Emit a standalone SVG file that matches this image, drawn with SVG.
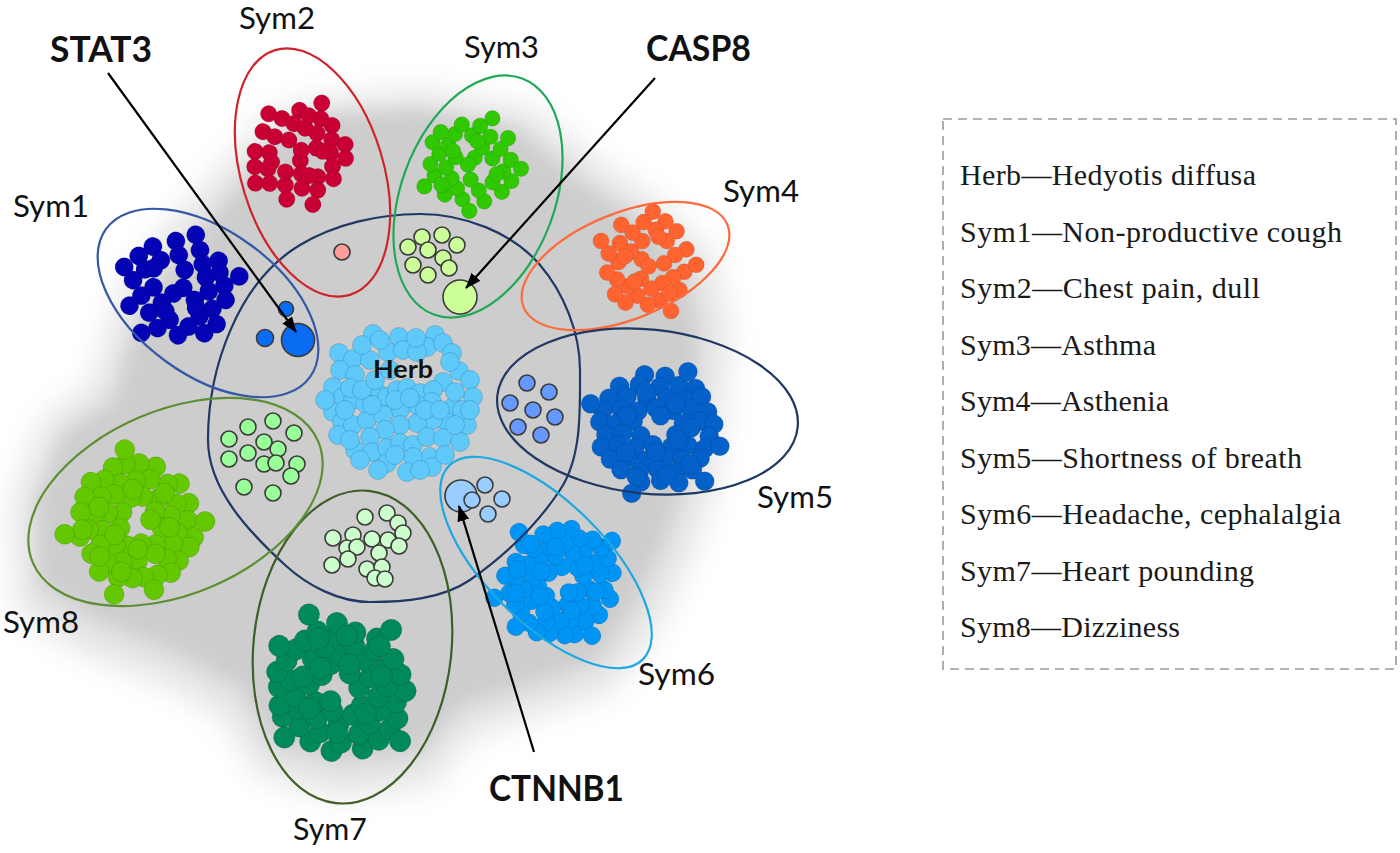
<svg xmlns="http://www.w3.org/2000/svg" xmlns:xlink="http://www.w3.org/1999/xlink" width="1400" height="853" viewBox="0 0 1400 853">
<style>
.ell{fill:none;stroke-width:2.2}
.in{stroke:#3a3a3a;stroke-width:1.6}
.lab{font-family:Lato,'Open Sans','Liberation Sans',sans-serif;font-size:30px;fill:#111}
.bold{font-weight:700;font-size:36px}
.leg{font-family:'Liberation Serif','Times New Roman',serif;font-size:30px;fill:#1a1a1a}
.arrow{stroke:#000;stroke-width:2.2;fill:none}
</style>
<defs>
<filter id="soft" x="-20%" y="-20%" width="140%" height="140%"><feGaussianBlur stdDeviation="9"/></filter>
<filter id="soft2" x="-20%" y="-20%" width="140%" height="140%"><feGaussianBlur stdDeviation="16"/></filter>
<marker id="ah" viewBox="0 0 16 12" refX="15" refY="6" markerWidth="16" markerHeight="12" markerUnits="userSpaceOnUse" orient="auto"><path d="M0,0 L16,6 L0,12 z" fill="#000"/></marker>
<g id="m">
<circle cx="-18" cy="-52" r="11.5"/><circle cx="14" cy="-49" r="11.5"/><circle cx="40" cy="-42" r="11.5"/>
<circle cx="-44" cy="-38" r="11.5"/><circle cx="-10" cy="-36" r="11.5"/><circle cx="22" cy="-33" r="11.5"/>
<circle cx="-58" cy="-22" r="11.5"/><circle cx="-30" cy="-24" r="11.5"/><circle cx="2" cy="-20" r="11.5"/><circle cx="30" cy="-18" r="11.5"/><circle cx="55" cy="-14" r="11.5"/>
<circle cx="-46" cy="-8" r="11.5"/><circle cx="38" cy="-2" r="11.5"/><circle cx="61" cy="3" r="11.5"/>
<circle cx="-57" cy="9" r="11.5"/><circle cx="-30" cy="11" r="11.5"/><circle cx="-4" cy="12" r="11.5"/><circle cx="24" cy="13" r="11.5"/><circle cx="48" cy="18" r="11.5"/>
<circle cx="-42" cy="25" r="11.5"/><circle cx="-15" cy="27" r="11.5"/><circle cx="35" cy="31" r="11.5"/><circle cx="58" cy="35" r="11.5"/>
<circle cx="-53" cy="41" r="11.5"/><circle cx="-27" cy="43" r="11.5"/><circle cx="0" cy="45" r="11.5"/><circle cx="25" cy="47" r="11.5"/><circle cx="46" cy="50" r="11.5"/>
<circle cx="-12" cy="59" r="11.5"/><circle cx="15" cy="61" r="11.5"/>
<circle cx="-36" cy="-12" r="11.5"/><circle cx="6" cy="2" r="11.5"/><circle cx="28" cy="22" r="11.5"/><circle cx="-8" cy="36" r="11.5"/><circle cx="45" cy="-28" r="11.5"/>
<circle cx="-72" cy="-4" r="11.5"/><circle cx="-30" cy="70" r="11.5"/><circle cx="70" cy="-30" r="11.5"/><circle cx="4" cy="-66" r="11.5"/>
</g>
<g id="L">
<circle cx="-15" cy="-70" r="12.5"/><circle cx="12" cy="-68" r="12.5"/>
<circle cx="-48" cy="-55" r="12.5"/><circle cx="-22" cy="-57" r="12.5"/><circle cx="5" cy="-54" r="12.5"/><circle cx="30" cy="-56" r="12.5"/><circle cx="52" cy="-52" r="12.5"/>
<circle cx="-62" cy="-39" r="12.5"/><circle cx="-38" cy="-41" r="12.5"/><circle cx="-12" cy="-38" r="12.5"/><circle cx="14" cy="-40" r="12.5"/><circle cx="38" cy="-37" r="12.5"/><circle cx="60" cy="-41" r="12.5"/>
<circle cx="-70" cy="-23" r="12.5"/><circle cx="-46" cy="-25" r="12.5"/><circle cx="-24" cy="-22" r="12.5"/><circle cx="0" cy="-26" r="12.5"/><circle cx="22" cy="-23" r="12.5"/><circle cx="46" cy="-25" r="12.5"/><circle cx="68" cy="-21" r="12.5"/>
<circle cx="-74" cy="-8" r="12.5"/><circle cx="-52" cy="-6" r="12.5"/><circle cx="-30" cy="-9" r="12.5"/><circle cx="36" cy="-6" r="12.5"/><circle cx="58" cy="-9" r="12.5"/><circle cx="76" cy="-5" r="12.5"/>
<circle cx="-66" cy="9" r="12.5"/><circle cx="-44" cy="7" r="12.5"/><circle cx="-20" cy="10" r="12.5"/><circle cx="26" cy="9" r="12.5"/><circle cx="70" cy="11" r="12.5"/>
<circle cx="-72" cy="25" r="12.5"/><circle cx="-50" cy="23" r="12.5"/><circle cx="-28" cy="26" r="12.5"/><circle cx="-4" cy="22" r="12.5"/><circle cx="20" cy="25" r="12.5"/><circle cx="42" cy="23" r="12.5"/><circle cx="64" cy="27" r="12.5"/>
<circle cx="-60" cy="41" r="12.5"/><circle cx="-36" cy="39" r="12.5"/><circle cx="-12" cy="42" r="12.5"/><circle cx="12" cy="38" r="12.5"/><circle cx="34" cy="41" r="12.5"/><circle cx="58" cy="40" r="12.5"/>
<circle cx="-46" cy="55" r="12.5"/><circle cx="-22" cy="57" r="12.5"/><circle cx="2" cy="54" r="12.5"/><circle cx="26" cy="58" r="12.5"/><circle cx="48" cy="55" r="12.5"/>
<circle cx="-20" cy="71" r="12.5"/><circle cx="6" cy="69" r="12.5"/><circle cx="30" cy="72" r="12.5"/>
<circle cx="-14" cy="-48" r="12.5"/><circle cx="26" cy="-32" r="12.5"/><circle cx="-38" cy="-16" r="12.5"/><circle cx="6" cy="-16" r="12.5"/><circle cx="46" cy="0" r="12.5"/><circle cx="30" cy="16" r="12.5"/><circle cx="-40" cy="32" r="12.5"/><circle cx="0" cy="32" r="12.5"/><circle cx="44" cy="48" r="12.5"/><circle cx="-26" cy="64" r="12.5"/><circle cx="14" cy="62" r="12.5"/>
<circle cx="-86" cy="-32" r="12.5"/><circle cx="84" cy="24" r="12.5"/><circle cx="-32" cy="86" r="12.5"/><circle cx="42" cy="-74" r="12.5"/><circle cx="64" cy="70" r="12.5"/>
</g>
</defs>
<rect width="1400" height="853" fill="#fff"/>

<g id="edge-cloud">
<path fill="#e2e2e2" filter="url(#soft2)" d="M320,100 L420,92 L530,110 L600,165 L660,205 L712,255 L728,330 L722,405 L715,480 L690,555 L655,630 L610,690 L540,712 L470,735 L430,785 L340,795 L260,775 L225,715 L160,680 L80,650 L18,610 L14,500 L45,420 L95,385 L108,335 L130,275 L180,215 L235,155 L268,118 Z"/>
<path fill="#cdcdcd" filter="url(#soft)" d="M330,115 L420,110 L515,128 L575,178 L635,218 L682,262 L698,330 L694,400 L688,470 L664,540 L634,606 L596,660 L530,684 L462,706 L420,752 L342,762 L272,744 L242,688 L172,650 L94,618 L40,586 L36,502 L64,434 L114,402 L128,352 L152,292 L200,234 L250,174 L282,134 Z"/>
</g>

<g id="sym-clusters" stroke="rgba(0,0,0,0.14)" stroke-width="1">
<use id="sym1-targets" xlink:href="#m" href="#m" fill="#0303B5" transform="translate(179,285) rotate(15) scale(0.8)"/>
<use id="sym2-targets" xlink:href="#m" href="#m" fill="#C90034" transform="translate(297,152) rotate(-40) scale(0.72)"/>
<use id="sym3-targets" xlink:href="#m" href="#m" fill="#30C800" transform="translate(472,166) rotate(180) scale(0.68)"/>
<use id="sym4-targets" xlink:href="#m" href="#m" fill="#FF6430" transform="translate(650,262) rotate(90) scale(0.7)"/>
<use id="sym5-targets" xlink:href="#L" href="#L" fill="#0461C9" transform="translate(656,428) scale(0.76)"/>
<use id="sym6-targets" xlink:href="#L" href="#L" fill="#0095F5" transform="translate(561,583) rotate(120) scale(0.72)"/>
<use id="sym7-targets" xlink:href="#L" href="#L" fill="#008A5A" transform="translate(340,690) rotate(200) scale(0.86)"/>
<use id="sym8-targets" xlink:href="#L" href="#L" fill="#64C800" transform="translate(137,522) rotate(60) scale(0.8)"/>
</g>

<g id="herb" fill="#5FC9FA" stroke="rgba(0,50,90,0.22)" stroke-width="0.9">
<circle cx="373" cy="334" r="9.5"/><circle cx="399" cy="337" r="9.5"/><circle cx="435" cy="335" r="9.5"/><circle cx="427" cy="347" r="9.5"/><circle cx="443" cy="343" r="9.5"/><circle cx="452" cy="353" r="9.5"/><circle cx="339" cy="353" r="9.5"/><circle cx="353" cy="359" r="9.5"/><circle cx="340" cy="370" r="9.5"/><circle cx="355" cy="375" r="9.5"/><circle cx="370" cy="360" r="9.5"/><circle cx="388" cy="352" r="9.5"/><circle cx="403" cy="350" r="9.5"/><circle cx="417" cy="352" r="9.5"/><circle cx="459" cy="371" r="9.5"/><circle cx="470" cy="380" r="9.5"/><circle cx="473" cy="397" r="9.5"/><circle cx="443" cy="382" r="9.5"/><circle cx="333" cy="387" r="9.5"/><circle cx="343" cy="397" r="9.5"/><circle cx="353" cy="400" r="9.5"/><circle cx="333" cy="412" r="9.5"/><circle cx="342" cy="422" r="9.5"/><circle cx="338" cy="435" r="9.5"/><circle cx="353" cy="425" r="9.5"/><circle cx="367" cy="420" r="9.5"/><circle cx="365" cy="403" r="9.5"/><circle cx="380" cy="395" r="9.5"/><circle cx="387" cy="397" r="9.5"/><circle cx="397" cy="390" r="9.5"/><circle cx="407" cy="388" r="9.5"/><circle cx="420" cy="393" r="9.5"/><circle cx="433" cy="390" r="9.5"/><circle cx="432" cy="402" r="9.5"/><circle cx="417" cy="405" r="9.5"/><circle cx="400" cy="410" r="9.5"/><circle cx="383" cy="415" r="9.5"/><circle cx="453" cy="407" r="9.5"/><circle cx="447" cy="422" r="9.5"/><circle cx="467" cy="425" r="9.5"/><circle cx="433" cy="420" r="9.5"/><circle cx="417" cy="423" r="9.5"/><circle cx="400" cy="425" r="9.5"/><circle cx="385" cy="430" r="9.5"/><circle cx="370" cy="437" r="9.5"/><circle cx="355" cy="450" r="9.5"/><circle cx="372" cy="452" r="9.5"/><circle cx="387" cy="448" r="9.5"/><circle cx="400" cy="443" r="9.5"/><circle cx="413" cy="445" r="9.5"/><circle cx="427" cy="437" r="9.5"/><circle cx="443" cy="438" r="9.5"/><circle cx="460" cy="442" r="9.5"/><circle cx="430" cy="457" r="9.5"/><circle cx="413" cy="457" r="9.5"/><circle cx="387" cy="463" r="9.5"/><circle cx="407" cy="472" r="9.5"/><circle cx="432" cy="467" r="9.5"/>
<circle cx="362" cy="345" r="9.5"/><circle cx="380" cy="340" r="9.5"/><circle cx="416" cy="338" r="9.5"/><circle cx="450" cy="362" r="9.5"/><circle cx="350" cy="388" r="9.5"/><circle cx="362" cy="390" r="9.5"/><circle cx="372" cy="405" r="9.5"/><circle cx="395" cy="400" r="9.5"/><circle cx="410" cy="398" r="9.5"/><circle cx="425" cy="410" r="9.5"/><circle cx="440" cy="410" r="9.5"/><circle cx="455" cy="392" r="9.5"/><circle cx="462" cy="410" r="9.5"/><circle cx="350" cy="440" r="9.5"/><circle cx="360" cy="460" r="9.5"/><circle cx="378" cy="470" r="9.5"/><circle cx="395" cy="455" r="9.5"/><circle cx="420" cy="470" r="9.5"/><circle cx="445" cy="455" r="9.5"/><circle cx="455" cy="425" r="9.5"/><circle cx="375" cy="380" r="9.5"/><circle cx="390" cy="370" r="9.5"/><circle cx="345" cy="410" r="9.5"/><circle cx="325" cy="400" r="9.5"/><circle cx="470" cy="410" r="9.5"/>
<text class="lab bold" x="373" y="378" style="font-size:25px" textLength="60" lengthAdjust="spacingAndGlyphs" stroke="none" fill="#000">Herb</text>
</g>

<g id="shared-targets" class="in">
<g id="sym1-shared" fill="#0A6CF2"><circle cx="265" cy="338" r="8.5"/><circle cx="286" cy="309" r="7.5"/><circle cx="298" cy="340" r="16.5"/></g>
<g id="sym2-shared" fill="#FF9C9C"><circle cx="342" cy="252" r="8"/></g>
<g id="sym3-shared" fill="#CCFF99"><circle cx="408" cy="247" r="8"/><circle cx="422" cy="237" r="8"/><circle cx="442" cy="235" r="8"/><circle cx="457" cy="245" r="8"/><circle cx="428" cy="250" r="8"/><circle cx="413" cy="265" r="8"/><circle cx="443" cy="258" r="8"/><circle cx="449" cy="268" r="8"/><circle cx="428" cy="275" r="8"/><circle cx="460" cy="297" r="17"/></g>
<g id="sym5-shared" fill="#6699FF"><circle cx="527" cy="383" r="8"/><circle cx="549" cy="392" r="8"/><circle cx="510" cy="403" r="8"/><circle cx="533" cy="410" r="8"/><circle cx="555" cy="417" r="8"/><circle cx="518" cy="427" r="8"/><circle cx="541" cy="435" r="8"/></g>
<g id="sym6-shared" fill="#99CCFF"><circle cx="461" cy="496" r="16"/><circle cx="472" cy="500" r="8"/><circle cx="485" cy="485" r="8"/><circle cx="502" cy="499" r="8"/><circle cx="488" cy="514" r="8"/></g>
<g id="sym7-shared" fill="#CCFFCC"><circle cx="365" cy="517" r="8"/><circle cx="387" cy="513" r="8"/><circle cx="398" cy="523" r="8"/><circle cx="403" cy="533" r="8"/><circle cx="333" cy="538" r="8"/><circle cx="353" cy="535" r="8"/><circle cx="372" cy="539" r="8"/><circle cx="388" cy="540" r="8"/><circle cx="399" cy="546" r="8"/><circle cx="347" cy="548" r="8"/><circle cx="357" cy="547" r="8"/><circle cx="379" cy="553" r="8"/><circle cx="332" cy="565" r="8"/><circle cx="348" cy="559" r="8"/><circle cx="367" cy="569" r="8"/><circle cx="382" cy="567" r="8"/><circle cx="375" cy="578" r="8"/><circle cx="385" cy="579" r="8"/></g>
<g id="sym8-shared" fill="#99FF99"><circle cx="248" cy="427" r="8"/><circle cx="273" cy="421" r="8"/><circle cx="294" cy="433" r="8"/><circle cx="229" cy="439" r="8"/><circle cx="248" cy="453" r="8"/><circle cx="264" cy="442" r="8"/><circle cx="278" cy="449" r="8"/><circle cx="229" cy="459" r="8"/><circle cx="264" cy="464" r="8"/><circle cx="276" cy="463" r="8"/><circle cx="297" cy="464" r="8"/><circle cx="291" cy="476" r="8"/><circle cx="244" cy="487" r="8"/><circle cx="273" cy="493" r="8"/></g>
</g>

<g id="groupings">
<path id="herb-boundary" class="ell" stroke="#1F3864" d="M208,440 C208,368 238,282 300,245 C335,224 379,214 420,214 C463,214 512,232 540,265 C564,293 580,333 580,370 C580,410 582,457 560,490 C537,525 504,556 470,580 C442,599 404,602 370,602 C339,602 308,586 285,565 C249,532 208,489 208,440 Z"/>
<ellipse id="sym1-ellipse" class="ell" stroke="#3558A5" cx="208" cy="303" rx="126" ry="72" transform="rotate(36 208 303)"/>
<ellipse id="sym2-ellipse" class="ell" stroke="#CF2229" cx="312.5" cy="172.5" rx="71" ry="128" transform="rotate(-17 312.5 172.5)"/>
<ellipse id="sym3-ellipse" class="ell" stroke="#20A955" cx="478" cy="196.5" rx="77" ry="126" transform="rotate(20.5 478 196.5)"/>
<ellipse id="sym4-ellipse" class="ell" stroke="#FF6B3A" cx="625.5" cy="266" rx="110" ry="53" transform="rotate(-22 625.5 266)"/>
<ellipse id="sym5-ellipse" class="ell" stroke="#1F3864" cx="647.5" cy="411.5" rx="151" ry="82" transform="rotate(6 647.5 411.5)"/>
<ellipse id="sym6-ellipse" class="ell" stroke="#1DA8E2" cx="546" cy="562.5" rx="137" ry="60" transform="rotate(45 546 562.5)"/>
<ellipse id="sym7-ellipse" class="ell" stroke="#3F5F28" cx="352.5" cy="647" rx="99" ry="157" transform="rotate(6 352.5 647)"/>
<ellipse id="sym8-ellipse" class="ell" stroke="#5C8F33" cx="175.5" cy="502" rx="155" ry="92" transform="rotate(-23 175.5 502)"/>
</g>

<g id="connectors">
<line class="arrow" x1="108" y1="73" x2="296" y2="332" marker-end="url(#ah)"/>
<line class="arrow" x1="655" y1="78" x2="466" y2="288" marker-end="url(#ah)"/>
<line class="arrow" x1="534" y1="752" x2="459" y2="506" marker-end="url(#ah)"/>
</g>

<g id="labels">
<text class="lab bold" x="50" y="62" textLength="102" lengthAdjust="spacingAndGlyphs">STAT3</text>
<text class="lab bold" x="646" y="61" textLength="105" lengthAdjust="spacingAndGlyphs">CASP8</text>
<text class="lab bold" x="489" y="801" textLength="135" lengthAdjust="spacingAndGlyphs">CTNNB1</text>
<text class="lab" x="13" y="217" textLength="76" lengthAdjust="spacingAndGlyphs">Sym1</text>
<text class="lab" x="239" y="29" textLength="76" lengthAdjust="spacingAndGlyphs">Sym2</text>
<text class="lab" x="464" y="58" textLength="75" lengthAdjust="spacingAndGlyphs">Sym3</text>
<text class="lab" x="723" y="202" textLength="76" lengthAdjust="spacingAndGlyphs">Sym4</text>
<text class="lab" x="757" y="508" textLength="76" lengthAdjust="spacingAndGlyphs">Sym5</text>
<text class="lab" x="638" y="685" textLength="77" lengthAdjust="spacingAndGlyphs">Sym6</text>
<text class="lab" x="293" y="840" textLength="74" lengthAdjust="spacingAndGlyphs">Sym7</text>
<text class="lab" x="3" y="633" textLength="76" lengthAdjust="spacingAndGlyphs">Sym8</text>
</g>

<g id="legend">
<rect x="943" y="119" width="453" height="550" fill="none" stroke="#9a9a9a" stroke-width="1.6" stroke-dasharray="9 6"/>
<text class="leg" x="960" y="185" textLength="296" lengthAdjust="spacing">Herb—Hedyotis diffusa</text>
<text class="leg" x="960" y="241.5" textLength="382" lengthAdjust="spacing">Sym1—Non-productive cough</text>
<text class="leg" x="960" y="298" textLength="300" lengthAdjust="spacing">Sym2—Chest pain, dull</text>
<text class="leg" x="960" y="354.5" textLength="196" lengthAdjust="spacing">Sym3—Asthma</text>
<text class="leg" x="960" y="411" textLength="209" lengthAdjust="spacing">Sym4—Asthenia</text>
<text class="leg" x="960" y="467.5" textLength="342" lengthAdjust="spacing">Sym5—Shortness of breath</text>
<text class="leg" x="960" y="524" textLength="381" lengthAdjust="spacing">Sym6—Headache, cephalalgia</text>
<text class="leg" x="960" y="580.5" textLength="294" lengthAdjust="spacing">Sym7—Heart pounding</text>
<text class="leg" x="960" y="637" textLength="220" lengthAdjust="spacing">Sym8—Dizziness</text>
</g>
</svg>
